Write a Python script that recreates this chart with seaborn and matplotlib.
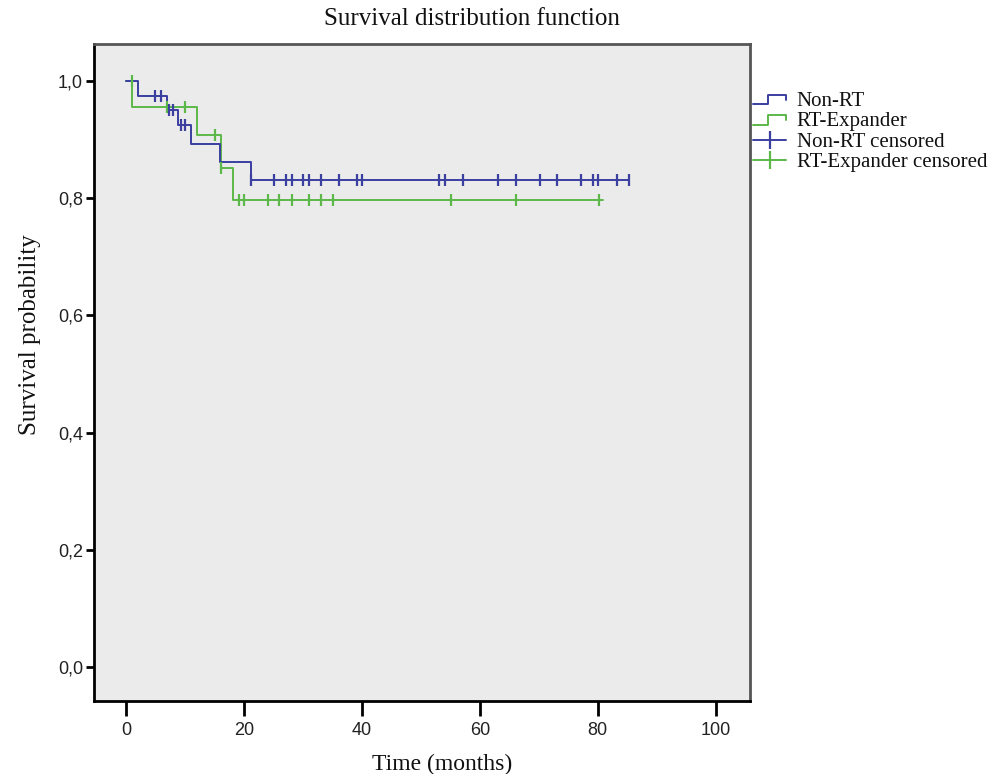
import numpy as np
import pandas as pd
import matplotlib
matplotlib.use("Agg")
import matplotlib.pyplot as plt
import seaborn as sns
from matplotlib.lines import Line2D
from matplotlib.legend_handler import HandlerLine2D

# ---- data ----
nonrt_times = [0, 2.1, 7.0, 8.9, 11.0, 15.9, 21.2]
nonrt_surv = [1.0, 0.975, 0.950, 0.924, 0.893, 0.862, 0.831]
nonrt_end = 85.3
nonrt_censored = [5.0, 5.9, 7.3, 8.0, 9.4, 10.0, 21.2, 25.1, 27.1, 28.1, 30.1, 31.1,
                  33.1, 36.1, 39.2, 40.1, 53.1, 54.1, 57.2, 63.1, 66.1, 70.2, 73.1,
                  77.2, 79.2, 80.1, 83.2, 85.3]

rt_times = [0, 1.1, 12.0, 16.1, 18.1]
rt_surv = [1.0, 0.956, 0.907, 0.852, 0.797]
rt_end = 80.9
rt_censored = [1.0, 7.0, 10.1, 15.1, 16.1, 19.2, 20.0, 24.1, 26.0, 28.1, 31.1, 33.1,
               35.1, 55.2, 66.1, 80.2]

groups = ["Non-RT", "RT-Expander"]
colors = {"Non-RT": "#3a3fa0", "RT-Expander": "#5cb848"}
x_ticks = [0, 20, 40, 60, 80, 100]
y_ticks = [0.0, 0.2, 0.4, 0.6, 0.8, 1.0]
y_tick_labels = ["0,0", "0,2", "0,4", "0,6", "0,8", "1,0"]

sns.set_theme(style="white")
plt.rcParams["font.family"] = ["Liberation Serif", "DejaVu Serif"]

fig = plt.figure(figsize=(9.94, 7.74), dpi=100)
ax = fig.add_axes([94 / 994, 73 / 774, 656 / 994, 657 / 774])
ax.set_facecolor("#ebebeb")


def step_df(times, surv, end):
    t = list(times) + [end]
    s = list(surv) + [surv[-1]]
    return pd.DataFrame({"time": t, "surv": s})


def cens_df(times, surv, cens):
    idx = np.searchsorted(times, cens, side="right") - 1
    return pd.DataFrame({"time": cens, "surv": np.array(surv)[idx]})


data = {
    "Non-RT": (nonrt_times, nonrt_surv, nonrt_end, nonrt_censored),
    "RT-Expander": (rt_times, rt_surv, rt_end, rt_censored),
}

for g in ["RT-Expander", "Non-RT"]:
    times, surv, end, cens = data[g]
    d = step_df(times, surv, end)
    sns.lineplot(data=d, x="time", y="surv", drawstyle="steps-post", color=colors[g],
                 linewidth=1.4, ax=ax, estimator=None, sort=False)
    c = cens_df(times, surv, cens)
    sns.scatterplot(data=c, x="time", y="surv", marker="|", s=80, linewidth=1.6,
                    color=colors[g], ax=ax, zorder=3)

ax.set_xlim(-5.4, 105.8)
ax.set_ylim(-0.058, 1.063)
ax.set_xticks(x_ticks)
ax.set_yticks(y_ticks)
ax.set_yticklabels(y_tick_labels)
ax.set_xlabel("")
ax.set_ylabel("")

tick_font = ["Liberation Sans Narrow", "Liberation Sans", "DejaVu Sans"]
for lab in ax.get_xticklabels() + ax.get_yticklabels():
    lab.set_family(tick_font)
    lab.set_fontsize(13)
    lab.set_color("#222222")
ax.tick_params(axis="x", direction="out", length=11, width=2, color="black", pad=4, bottom=True)
ax.tick_params(axis="y", direction="out", length=6, width=2, color="black", pad=2, left=True)

for side in ["left", "bottom"]:
    ax.spines[side].set_color("black")
    ax.spines[side].set_linewidth(2)
for side in ["top", "right"]:
    ax.spines[side].set_color("#555555")
    ax.spines[side].set_linewidth(2)


class StepHandler(HandlerLine2D):
    def create_artists(self, legend, orig_handle, xdescent, ydescent, width, height, fontsize, trans):
        y0 = -ydescent + height * 0.1
        y1 = -ydescent + height * 0.75
        xs = [-xdescent, -xdescent + width * 0.45, -xdescent + width * 0.45, -xdescent + width,
              -xdescent + width]
        ys = [y0, y0, y1, y1, y0 + height * 0.3]
        line = Line2D(xs, ys, color=orig_handle.get_color(), linewidth=1.4)
        line.set_transform(trans)
        return [line]


h_nonrt = Line2D([], [], color=colors["Non-RT"])
h_rt = Line2D([], [], color=colors["RT-Expander"])
h_nonrt_c = Line2D([], [], color=colors["Non-RT"], marker="|", markersize=13, linewidth=1.4,
                   markeredgewidth=1.6)
h_rt_c = Line2D([], [], color=colors["RT-Expander"], marker="|", markersize=13, linewidth=1.4,
                markeredgewidth=1.6)
leg = fig.legend([h_nonrt, h_rt, h_nonrt_c, h_rt_c],
                 ["Non-RT", "RT-Expander", "Non-RT censored", "RT-Expander censored"],
                 loc="upper left", bbox_to_anchor=(753 / 994, 1 - 91 / 774),
                 frameon=False, fontsize=15, handlelength=1.6, handletextpad=0.5,
                 labelspacing=0.05, borderaxespad=0, borderpad=0,
                 handler_map={h_nonrt: StepHandler(), h_rt: StepHandler()})
for t in leg.get_texts():
    t.set_color("#111111")

fig.text(472 / 994, 1 - 19 / 774, "Survival distribution function", ha="center", va="center",
         fontsize=18, color="#111111")
fig.text(442 / 994, 1 - 764 / 774, "Time (months)", ha="center", va="center",
         fontsize=17, color="#111111")
fig.text(30 / 994, 1 - 335 / 774, "Survival probability", ha="center", va="center",
         rotation=90, fontsize=18, color="#111111")

fig.savefig("out.png", dpi=100)
